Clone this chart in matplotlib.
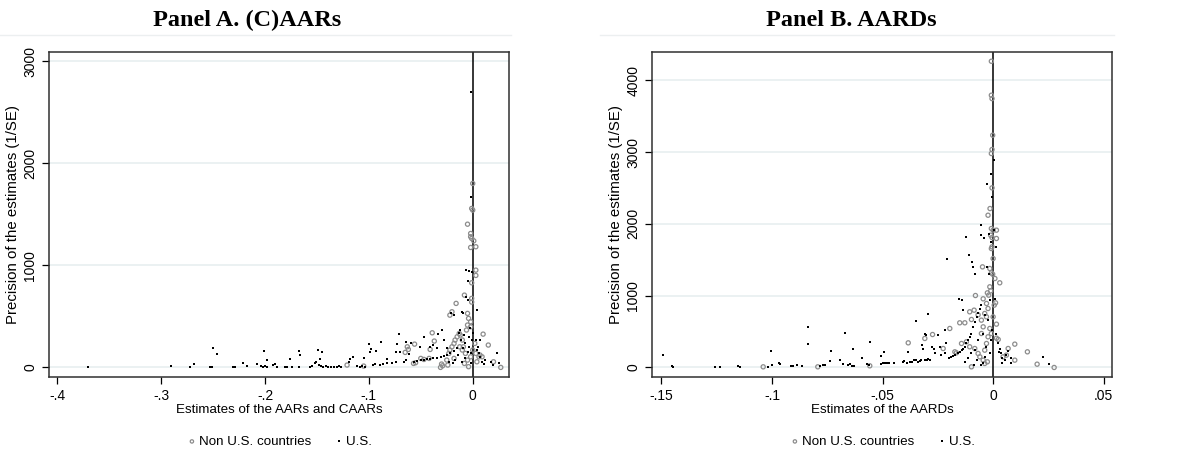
import numpy as np
import matplotlib.pyplot as plt

# Panel A: (C)AARs  -- estimate, precision (1/SE)
a_us_x = [-0.370, -0.291, -0.272, -0.268, -0.253, -0.251, -0.250, -0.246, -0.231, -0.229,
          -0.221, -0.217, -0.208, -0.204, -0.202, -0.200, -0.198, -0.201, -0.198, -0.192,
          -0.190, -0.188, -0.181, -0.179, -0.176, -0.174, -0.167, -0.166, -0.167, -0.157,
          -0.155, -0.152, -0.151, -0.149, -0.147, -0.145, -0.148, -0.146, -0.144, -0.141,
          -0.139, -0.136, -0.134, -0.131, -0.129, -0.127, -0.119, -0.118, -0.115, -0.111,
          -0.109, -0.107, -0.104, -0.105, -0.100, -0.099, -0.098, -0.093, -0.088, -0.096,
          -0.094, -0.089, -0.086, -0.083, -0.083, -0.078, -0.074, -0.074, -0.073, -0.071,
          -0.070, -0.066, -0.064, -0.064, -0.061, -0.059, -0.057, -0.054, -0.050, -0.047,
          -0.044, -0.041, -0.038, -0.034, -0.031, -0.028, -0.025, -0.022, -0.018, -0.015,
          -0.051, -0.047, -0.041, -0.038, -0.034, -0.033, -0.030, -0.028, -0.025, -0.023,
          -0.021, -0.018, -0.013, -0.012, -0.010, -0.009, -0.006, -0.005, -0.004, -0.002,
          -0.002, -0.001, 0.004, -0.006, -0.005, -0.011, -0.009, -0.008, -0.007, -0.005,
          -0.004, -0.004, -0.003, -0.002, -0.001, 0.000, -0.007, -0.010, -0.014, -0.017,
          -0.019, -0.002, 0.003, 0.004, 0.006, 0.007, 0.009, 0.011, 0.012, 0.005,
          0.007, 0.023, 0.025, 0.018, 0.020]
a_us_y = [0, 13, 7, 33, 7, 7, 186, 127, 7, 7,
          39, 16, 33, 13, 7, 16, 7, 163, 72, 23,
          33, 7, 7, 7, 78, 7, 163, 121, 7, 7,
          16, 39, 55, 170, 82, 147, 23, 16, 7, 13,
          7, 7, 7, 7, 16, 7, 55, 78, 98, 13,
          7, 16, 7, 88, 228, 147, 176, 163, 245, 23,
          33, 23, 29, 39, 78, 39, 55, 147, 228, 323,
          147, 55, 72, 251, 127, 235, 55, 65, 72, 72,
          78, 82, 91, 95, 104, 111, 118, 137, 163, 186,
          202, 294, 202, 219, 186, 326, 365, 268, 186, 55,
          529, 512, 333, 365, 545, 529, 953, 849, 947, 1671,
          2700, 937, 561, 692, 659, 268, 186, 317, 235, 153,
          300, 202, 382, 137, 268, 333, 88, 55, 121, 72,
          39, 39, 268, 170, 137, 104, 55, 33, 72, 202,
          268, 144, 46, 55, 23]

a_non_x = [0.000, -0.001, 0.000, -0.005, -0.002, -0.002, -0.001, 0.001, -0.002, 0.003,
           -0.001, 0.003, 0.003, -0.008, -0.001, -0.001, -0.016, -0.020, -0.022, -0.005,
           -0.004, -0.002, -0.005, -0.006, -0.002, -0.039, -0.037, -0.056, -0.063, -0.062,
           -0.065, 0.010, 0.015, 0.007, 0.009, 0.020, 0.027, -0.057, -0.055, -0.050,
           -0.047, -0.042, -0.041, -0.031, -0.030, -0.029, -0.025, -0.023, -0.022, -0.020,
           -0.018, -0.017, -0.015, -0.013, -0.012, -0.010, -0.009, -0.007, -0.005, -0.004,
           -0.002, 0.000, 0.002, 0.003, 0.004, 0.006, -0.121, -0.105, -0.010, -0.0125,
           -0.018, -0.024, -0.008]
a_non_y = [1802, 1557, 1541, 1403, 1312, 1280, 1263, 1240, 1175, 1182,
           829, 953, 901, 708, 676, 640, 627, 545, 512, 529,
           480, 447, 415, 366, 398, 339, 258, 228, 202, 176,
           147, 326, 219, 121, 104, 55, 0, 39, 46, 88,
           78, 88, 176, 0, 33, 16, 72, 137, 170, 202,
           235, 268, 300, 333, 317, 268, 202, 137, 72, 7,
           104, 170, 235, 137, 55, 104, 23, 13, 170, 202,
           88, 23, 39]

# Panel B: AARDs
b_us_x = [-0.1494, -0.1452, -0.1446, -0.1259, -0.1235, -0.1153, -0.1147, -0.1018, -0.1003, -0.1000,
          -0.0965, -0.0969, -0.0912, -0.0903, -0.0885, -0.0864, -0.0837, -0.0837, -0.0782, -0.0770,
          -0.0761, -0.0739, -0.0734, -0.0693, -0.0671, -0.0678, -0.0656, -0.0647, -0.0638, -0.0629,
          -0.0636, -0.0592, -0.0571, -0.0562, -0.0556, -0.0508, -0.0493, -0.0505, -0.0496, -0.0487,
          -0.0478, -0.0469, -0.0448, -0.0409, -0.0403, -0.0390, -0.0378, -0.0369, -0.0384, -0.0351,
          -0.0357, -0.0348, -0.0342, -0.0332, -0.0324, -0.0309, -0.0300, -0.0294, -0.0286, -0.0309,
          -0.0302, -0.0321, -0.0318, -0.0294, -0.0276, -0.0267, -0.0264, -0.0249, -0.0240, -0.0234,
          -0.0219, -0.0211, -0.0207, -0.0216, -0.0201, -0.0191, -0.0181, -0.0173, -0.0158, -0.0151,
          -0.0143, -0.0136, -0.0128, -0.0121, -0.0113, -0.0106, -0.0098, -0.0090, -0.0083, -0.0075,
          -0.0068, -0.0060, -0.0053, -0.0154, -0.0143, -0.0136, -0.0124, -0.0110, -0.0095, -0.0092,
          -0.0083, -0.0053, -0.0053, -0.0041, -0.0026, 0.0002, -0.0008, -0.0005, -0.0018, -0.0011,
          0.0005, 0.0014, -0.0026, -0.0020, -0.0015, 0.0008, -0.0038, -0.0023, -0.0045, -0.0068,
          -0.0083, -0.0075, -0.0053, -0.0038, -0.0030, -0.0015, -0.0011, -0.0005, -0.0098, -0.0113,
          -0.0128, -0.0086, -0.0045, 0.0015, 0.0023, 0.0030, 0.0035, 0.0041, 0.0053, 0.0060,
          0.0068, 0.0080, 0.0083, 0.0041, 0.0026, 0.0226, 0.0252]
b_us_y = [172, 19, 9, 9, 0, 19, 9, 9, 232, 28,
          42, 56, 19, 23, 32, 23, 557, 325, 23, 32,
          28, 93, 227, 102, 483, 42, 28, 42, 23, 19,
          255, 125, 42, 32, 357, 158, 209, 46, 56, 65,
          65, 56, 65, 79, 88, 65, 70, 79, 209, 650,
          111, 102, 79, 88, 102, 102, 111, 116, 111, 473,
          450, 311, 264, 742, 288, 264, 195, 450, 288, 172,
          195, 334, 1517, 520, 125, 148, 158, 172, 195, 218,
          241, 264, 288, 334, 380, 427, 473, 566, 636, 705,
          752, 821, 868, 951, 937, 798, 1810, 1564, 1471, 1401,
          1308, 1981, 1842, 1796, 2552, 2895, 2700, 2376, 1865, 1749,
          1912, 1680, 1401, 1308, 937, 960, 728, 659, 473, 380,
          241, 102, 32, 148, 288, 195, 380, 520, 195, 125,
          79, 32, 56, 473, 334, 264, 195, 125, 102, 172,
          232, 56, 125, 56, 218, 148, 46]

b_non_x = [-0.0008, -0.0008, -0.0005, -0.0002, -0.0005, -0.0008, -0.0005, -0.0014, -0.0023, -0.0008,
           0.0000, 0.0015, -0.0011, -0.0005, 0.0015, -0.0005, -0.0008, 0.0000, -0.0048, -0.0015,
           -0.0008, -0.0002, 0.0008, 0.0030, -0.0015, -0.0011, -0.0026, -0.0020, -0.0080, -0.0045,
           -0.0030, -0.0023, 0.0005, 0.0011, -0.0106, -0.0086, -0.0098, -0.0068, -0.0038, -0.0030,
           -0.0151, -0.0128, -0.0053, -0.0045, 0.0015, 0.0015, 0.0023, -0.0196, -0.0226, -0.0274,
           -0.0309, -0.0384, -0.0143, -0.0121, -0.0106, -0.0083, -0.0068, -0.0060, -0.0045, -0.0038,
           -0.0030, -0.0023, -0.0098, -0.0038, -0.0026, 0.0068, 0.0098, 0.0098, 0.0060, 0.0045,
           0.0155, 0.0199, 0.0276, -0.1040, -0.0793, -0.0558, -0.0173, -0.0166, -0.0053, -0.0015,
           -0.0008, 0.0000]
b_non_y = [4264, 3791, 3744, 3234, 3035, 2979, 2501, 2213, 2120, 1935,
           1912, 1912, 1842, 1810, 1796, 1680, 1656, 1517, 1401, 1378,
           1318, 1299, 1239, 1179, 1123, 1067, 1039, 1007, 1002, 956,
           891, 821, 868, 900, 775, 798, 668, 733, 752, 705,
           622, 622, 659, 566, 603, 408, 390, 543, 264, 459,
           404, 343, 334, 357, 288, 264, 195, 148, 102, 241,
           334, 427, 9, 56, 79, 264, 325, 102, 172, 148,
           218, 46, 0, 9, 9, 23, 218, 204, 473, 543,
           473, 705]

a_xticks = [-0.4, -0.3, -0.2, -0.1, 0]
a_xlabels = ['-.4', '-.3', '-.2', '-.1', '0']
a_yticks = [0, 1000, 2000, 3000]
b_xticks = [-0.15, -0.1, -0.05, 0, 0.05]
b_xlabels = ['-.15', '-.1', '-.05', '0', '.05']
b_yticks = [0, 1000, 2000, 3000, 4000]

plt.rcParams['font.family'] = ['Liberation Sans', 'DejaVu Sans']

fig = plt.figure(figsize=(11.95, 4.5), dpi=100)


def draw_panel(rect, title, title_x, line_x0, line_x1, non_x, non_y, us_x, us_y,
               xticks, xlabels, yticks, xlim, ylim, xlabel):
    ax = fig.add_axes(rect)
    for t in yticks:
        ax.axhline(t, color='#e8eff0', lw=1.2, zorder=0)
    ax.axvline(0, color='black', lw=1.1, zorder=1)
    ax.scatter(non_x, non_y, s=9, facecolors='none', edgecolors='#8c8c8c',
               linewidths=0.9, zorder=2, label='Non U.S. countries')
    ax.scatter(us_x, us_y, s=3.5, marker='s', color='black', linewidths=0,
               zorder=3, label='U.S.')
    ax.set_xlim(*xlim)
    ax.set_ylim(*ylim)
    ax.set_xticks(xticks)
    ax.set_xticklabels(xlabels)
    ax.set_yticks(yticks)
    ax.set_yticklabels([str(t) for t in yticks], rotation=90, va='center')
    ax.tick_params(direction='out', length=5, width=0.9, labelsize=10, colors='black')
    for s in ax.spines.values():
        s.set_color('#303030')
        s.set_linewidth(1.1)
    ax.set_xlabel(xlabel, fontsize=9.6, labelpad=1)
    ax.set_ylabel('Precision of the estimates (1/SE)', fontsize=10.8, labelpad=2)
    ax.legend(loc='upper center', bbox_to_anchor=(0.5, -0.18), ncol=2,
              frameon=False, fontsize=9.6, handletextpad=0.1, handlelength=0.9,
              borderaxespad=0, borderpad=0, columnspacing=1.6, markerscale=0.8)
    fig.text(title_x, 0.955, title, ha='center', va='center', fontsize=17.5,
             fontweight='bold', family='Liberation Serif')
    fig.add_artist(plt.Line2D([line_x0, line_x1], [0.922, 0.922], color='#eceff0', lw=1))
    return ax


draw_panel([0.041, 0.162, 0.385, 0.722], 'Panel A. (C)AARs', 0.207, 0.0, 0.428,
           a_non_x, a_non_y, a_us_x, a_us_y, a_xticks, a_xlabels, a_yticks,
           (-0.408, 0.035), (-95, 3088), 'Estimates of the AARs and CAARs')
draw_panel([0.5456, 0.162, 0.385, 0.722], 'Panel B. AARDs', 0.712, 0.502, 0.932,
           b_non_x, b_non_y, b_us_x, b_us_y, b_xticks, b_xlabels, b_yticks,
           (-0.1543, 0.0538), (-134, 4390), 'Estimates of the AARDs')

fig.savefig('out.png', dpi=100)
